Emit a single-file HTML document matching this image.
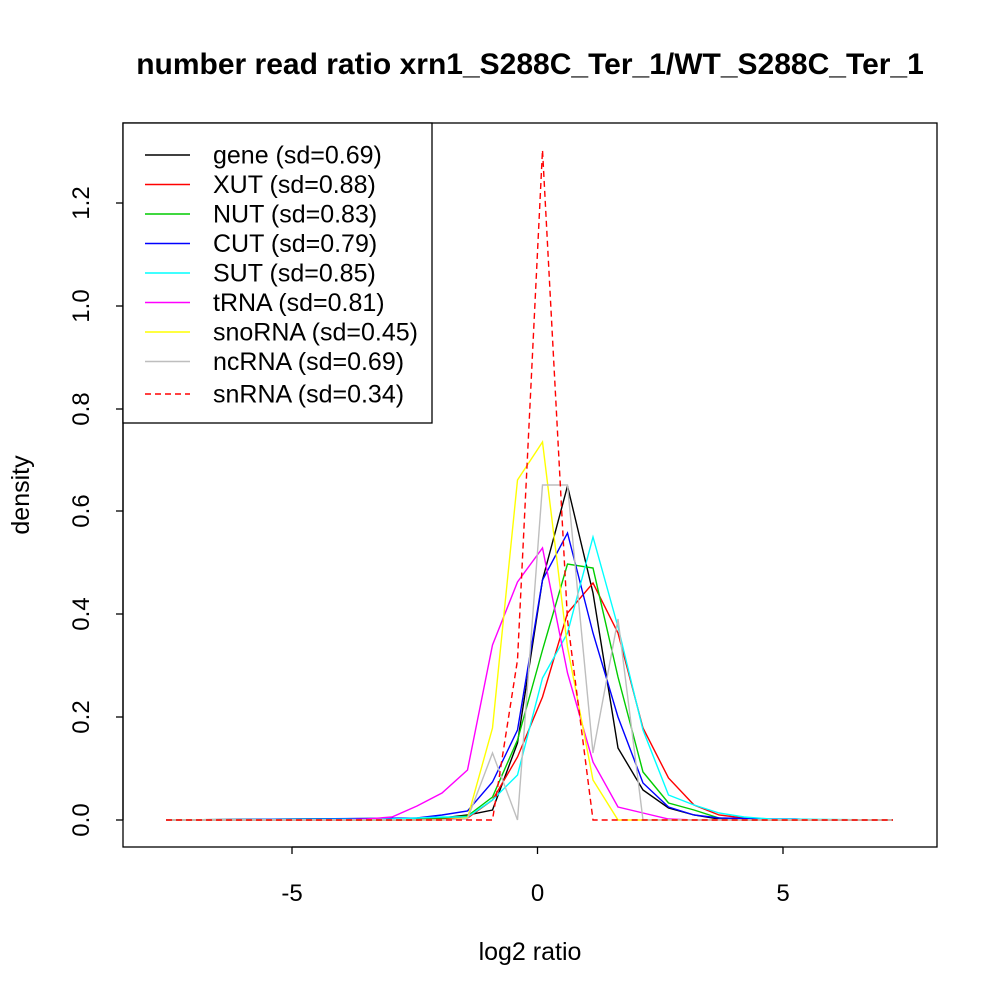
<!DOCTYPE html>
<html><head><meta charset="utf-8"><style>body{margin:0;background:#fff}svg{display:block}text{font-family:"Liberation Sans",sans-serif}</style></head><body>
<svg width="1000" height="1000" viewBox="0 0 1000 1000" xmlns="http://www.w3.org/2000/svg">
<rect width="1000" height="1000" fill="#fff"/>
<text x="530" y="74" font-size="30" font-weight="bold" text-anchor="middle">number read ratio xrn1_S288C_Ter_1/WT_S288C_Ter_1</text>
<rect x="123" y="123" width="814" height="724" fill="none" stroke="#000" stroke-width="1.3"/>
<g stroke="#000" stroke-width="1.3">
<line x1="292" y1="847" x2="783" y2="847"/>
<line x1="292" y1="847" x2="292" y2="854"/><line x1="537.5" y1="847" x2="537.5" y2="854"/><line x1="783" y1="847" x2="783" y2="854"/>
<line x1="123" y1="820" x2="123" y2="203"/>
<line x1="116" y1="820" x2="123" y2="820"/><line x1="116" y1="717" x2="123" y2="717"/><line x1="116" y1="614" x2="123" y2="614"/><line x1="116" y1="511" x2="123" y2="511"/><line x1="116" y1="409" x2="123" y2="409"/><line x1="116" y1="306" x2="123" y2="306"/><line x1="116" y1="203" x2="123" y2="203"/>
</g>
<g font-size="24" text-anchor="middle">
<text x="292" y="901">-5</text><text x="537.5" y="901">0</text><text x="783" y="901">5</text>
</g>
<text x="530" y="960" font-size="25" text-anchor="middle">log2 ratio</text>
<g font-size="24" text-anchor="middle">
<text transform="translate(89,820) rotate(-90)">0.0</text>
<text transform="translate(89,717) rotate(-90)">0.2</text>
<text transform="translate(89,614) rotate(-90)">0.4</text>
<text transform="translate(89,511) rotate(-90)">0.6</text>
<text transform="translate(89,409) rotate(-90)">0.8</text>
<text transform="translate(89,306) rotate(-90)">1.0</text>
<text transform="translate(89,203) rotate(-90)">1.2</text>
</g>
<text transform="translate(29,495) rotate(-90)" font-size="25" text-anchor="middle">density</text>
<g fill="none" stroke-width="1.4">
<polyline stroke="#000" points="166,820 417,820 442,818 467.5,815 492.5,810 517.5,743 542.5,580 567.5,486 593,593 618,748 643,790 668.5,808 694,815 719,819 744,820 893,820"/>
<polyline stroke="#f00" points="166,820 442,819 467.5,818 492.5,800 517.5,757 542.5,697 567.5,613 593,583 618,633 643,728 668.5,778 694,805 719,815 744,818 770,820 893,820"/>
<polyline stroke="#0c0" points="166,820 442,818 467.5,816 492.5,797 517.5,740 542.5,650 567.5,564 593,568 618,677 643,772 668.5,803 694,810 719,818 744,820 893,820"/>
<polyline stroke="#00f" points="166,820 417,818 442,815 467.5,811 492.5,782 517.5,730 542.5,580 567.5,533 593,633 618,717 643,783 668.5,807 694,815 719,818 770,819 795,819 820,820 893,820"/>
<polyline stroke="#0ff" points="166,820 392,819 417,818 442,817 467.5,817 492.5,800 517.5,775 542.5,678 567.5,633 593,537 618,627 643,730 668.5,795 694,805 719,813 744,817 770,819 893,820"/>
<polyline stroke="#f0f" points="166,820 342,820 367,819 392,817 417,806 442,793 467.5,770 492.5,645 517.5,582 542.5,548 567.5,673 593,762 618,807 643,813 668.5,819 694,820 893,820"/>
<polyline stroke="#ff0" points="166,820 442,820 467.5,818 492.5,728 517.5,480 542.5,442 567.5,647 593,780 618,820 893,820"/>
<polyline stroke="#bebebe" points="166,820 442,820 467.5,819 492.5,753 517.5,820 542.5,485 567.5,485 593,753 618,619 643,820 893,820"/>
<polyline stroke="#f00" stroke-dasharray="6,4" points="166,820 492.5,820 517.5,660 542.5,150 567.5,620 593,820 893,820"/>
</g>
<rect x="123" y="123" width="309" height="300" fill="#fff" stroke="#000" stroke-width="1.3"/>
<g stroke-width="1.4">
<line x1="145" x2="190" y1="155" y2="155" stroke="#000"/>
<line x1="145" x2="190" y1="184.5" y2="184.5" stroke="#f00"/>
<line x1="145" x2="190" y1="214" y2="214" stroke="#0c0"/>
<line x1="145" x2="190" y1="243.5" y2="243.5" stroke="#00f"/>
<line x1="145" x2="190" y1="273" y2="273" stroke="#0ff"/>
<line x1="145" x2="190" y1="302.5" y2="302.5" stroke="#f0f"/>
<line x1="145" x2="190" y1="332" y2="332" stroke="#ff0"/>
<line x1="145" x2="190" y1="361.5" y2="361.5" stroke="#bebebe"/>
<line x1="145" x2="190" y1="394" y2="394" stroke="#f00" stroke-dasharray="6,4"/>
</g>
<g font-size="25">
<text x="213" y="163.5">gene (sd=0.69)</text>
<text x="213" y="193">XUT (sd=0.88)</text>
<text x="213" y="222.5">NUT (sd=0.83)</text>
<text x="213" y="252">CUT (sd=0.79)</text>
<text x="213" y="281.5">SUT (sd=0.85)</text>
<text x="213" y="311">tRNA (sd=0.81)</text>
<text x="213" y="340.5">snoRNA (sd=0.45)</text>
<text x="213" y="370">ncRNA (sd=0.69)</text>
<text x="213" y="402.5">snRNA (sd=0.34)</text>
</g>
</svg>
</body></html>
